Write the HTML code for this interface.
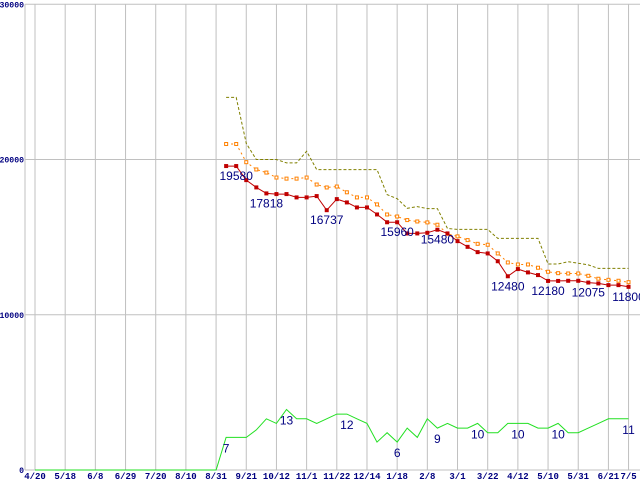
<!DOCTYPE html>
<html><head><meta charset="utf-8"><style>
html,body{margin:0;padding:0;background:#fff;}
svg{display:block;}
.tk{font-family:"Liberation Mono",monospace;font-size:9px;font-weight:bold;fill:#000080;}
.yk{font-family:"Liberation Mono",monospace;font-size:8px;font-weight:bold;fill:#000080;}
.lb{font-family:"Liberation Sans",sans-serif;font-size:12px;fill:#000080;}
</style></head><body>
<svg id="chart" width="640" height="480" viewBox="0 0 640 480" xmlns="http://www.w3.org/2000/svg"></svg>
<script>
// ---- data ----
const xTickLabels = ["4/20","5/18","6/8","6/29","7/20","8/10","8/31","9/21","10/12","11/1","11/22","12/14","1/18","2/8","3/1","3/22","4/12","5/10","5/31","6/21","7/5"];
const xTickIndex = [0,3,6,9,12,15,18,21,24,27,30,33,36,39,42,45,48,51,54,57,59];
const yTicks = [0,10000,20000,30000];
const startWeek = 19;
const priceMin = [19580,19580,18674,18204,17818,17775,17775,17560,17560,17645,16737,17450,17236,16914,16914,16463,15960,15960,15240,15240,15280,15480,15240,14743,14376,14035,13951,13449,12480,12943,12729,12556,12180,12180,12189,12189,12075,12019,11910,11910,11800];
const priceAvg = [21000,21000,19830,19360,19160,18840,18770,18770,18840,18390,18200,18260,17890,17560,17560,17110,16460,16330,16100,16010,15950,15800,15220,15050,14810,14570,14510,13950,13370,13240,13240,13030,12770,12680,12660,12660,12510,12320,12250,12190,12100];
const priceMax = [24000,24000,21030,20000,20000,20000,19780,19780,20530,19350,19350,19350,19350,19350,19350,19350,17740,17480,16860,16970,16840,16840,15560,15500,15500,15500,15500,14920,14920,14920,14920,14920,13270,13270,13420,13320,13210,12990,12990,12990,12990];
const shopCount = [0,0,0,0,0,0,0,0,0,0,0,0,0,0,0,0,0,0,0,7,7,7,8.6,11,10,13,11,11,10,11,12,12,11,10,6,8,6,9,7,11,9,10,9,9,10,8,8,10,10,10,9,9,10,8,8,9,10,11,11,11];
const priceLabels = [[1,"19580"],[4,"17818"],[10,"16737"],[17,"15960"],[21,"15480"],[28,"12480"],[32,"12180"],[36,"12075"],[40,"11800"]];
const countLabels = [[19,"7"],[25,"13"],[31,"12"],[36,"6"],[40,"9"],[44,"10"],[48,"10"],[52,"10"],[59,"11"]];
const countScale = 300;

// ---- axes ----
const X0 = 35, XSTEP = 10.06, Y0 = 470, YTOP = 4.3, YMAX = 30000, LEFT = 25;
function xPos(i){ return X0 + i*XSTEP; }
function yPos(v){ return Y0 - v/YMAX*(Y0-YTOP); }
const NS = "http://www.w3.org/2000/svg";
const svg = document.getElementById('chart');
function mk(tag, attrs){ const e=document.createElementNS(NS,tag); for(const k in attrs) e.setAttribute(k,attrs[k]); svg.appendChild(e); return e; }

// grid
const ya=mk('line',{x1:LEFT,y1:YTOP,x2:LEFT,y2:Y0,stroke:'#c0c0c0','stroke-width':1});


yTicks.forEach(v=>{
  const y=yPos(v);
  const l=mk('line',{x1:LEFT,y1:y,x2:640,y2:y,stroke:'#c0c0c0','stroke-width':1});
  
  
  const s=String(v);
  const t=mk('text',{x:LEFT-1,y:y+3,'text-anchor':'end',class:'yk',textLength:s.length*4.9,lengthAdjust:'spacingAndGlyphs'});
  t.textContent=s;
  
  
});
xTickIndex.forEach((idx,k)=>{
  const x=xPos(idx);
  const l=mk('line',{x1:x,y1:YTOP,x2:x,y2:Y0,stroke:'#c0c0c0','stroke-width':1});
  
  
  const t=mk('text',{x:x,y:479,'text-anchor':'middle',class:'tk'});
  t.textContent=xTickLabels[k];
  
  
});

function pts(arr, off, scale){ return arr.map((v,i)=>xPos(i+off).toFixed(1)+','+yPos(v*scale).toFixed(1)).join(' '); }

// series
const mx=mk('polyline',{points:pts(priceMax,startWeek,1),fill:'none',stroke:'#808000','stroke-width':1,'stroke-dasharray':'3,2'});


const av=mk('polyline',{points:pts(priceAvg,startWeek,1),fill:'none',stroke:'#ff8000','stroke-width':1,'stroke-dasharray':'2,3'});


priceAvg.forEach((v,i)=>{
  const r=mk('rect',{x:xPos(i+startWeek)-1.5,y:yPos(v)-1.5,width:3,height:3,fill:'#fff',stroke:'#ff8000','stroke-width':1});
  
  
});
const mn=mk('polyline',{points:pts(priceMin,startWeek,1),fill:'none',stroke:'#c00000','stroke-width':1});


priceMin.forEach((v,i)=>{
  const r=mk('rect',{x:xPos(i+startWeek)-2,y:yPos(v)-2,width:4,height:4,fill:'#c00000'});
  
  
});
const gc=mk('polyline',{points:pts(shopCount,0,countScale),fill:'none',stroke:'#22e022','stroke-width':1});



priceLabels.forEach(([i,txt])=>{
  const t=mk('text',{x:xPos(i+startWeek),y:yPos(priceMin[i])+14,'text-anchor':'middle',class:'lb'});
  t.textContent=txt;
  
  
});
countLabels.forEach(([i,txt])=>{
  const t=mk('text',{x:xPos(i),y:yPos(shopCount[i]*countScale)+15,'text-anchor':'middle',class:'lb'});
  t.textContent=txt;
  
  
});
</script>
</body></html>
